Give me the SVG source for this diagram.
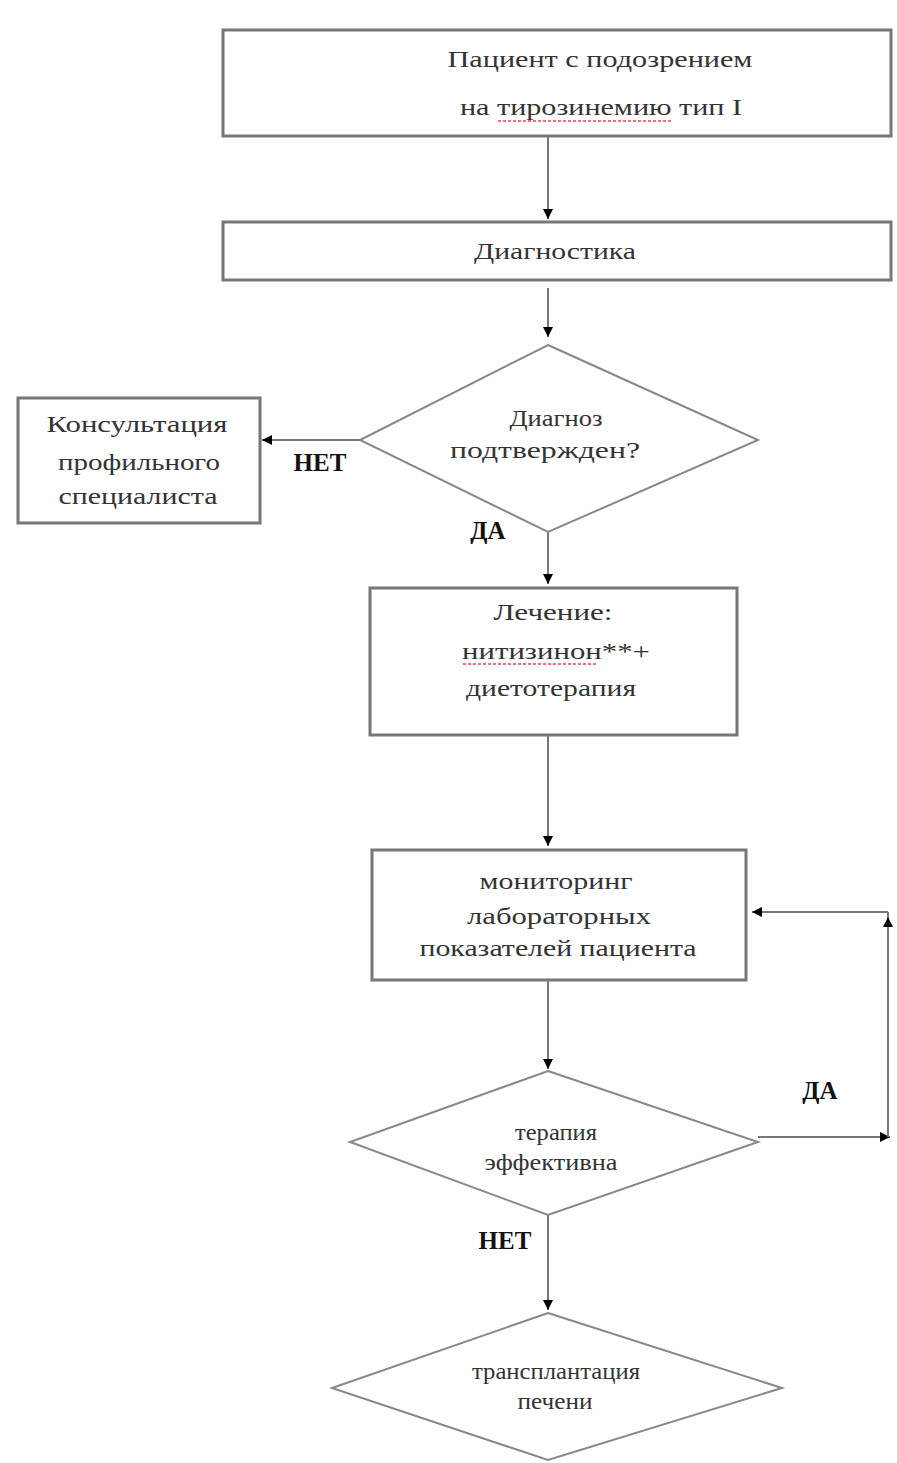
<svg xmlns="http://www.w3.org/2000/svg" width="897" height="1463" viewBox="0 0 897 1463">
<style>
.box{fill:#fff;stroke:#777;stroke-width:3}
.dia{fill:#fff;stroke:#888;stroke-width:2}
.t{font-family:"Liberation Serif","Times New Roman",serif;font-size:24px;fill:#333;text-anchor:middle}
.b{font-family:"Liberation Serif","Times New Roman",serif;font-size:25px;font-weight:bold;fill:#111;text-anchor:middle}
.c{fill:none;stroke:#777;stroke-width:2}
.sp{fill:none;stroke:#f07080;stroke-width:2;stroke-dasharray:3 2}
</style>
<defs>
<marker id="ah" viewBox="0 0 10 10" refX="10" refY="5" markerWidth="5" markerHeight="5" orient="auto" markerUnits="strokeWidth">
<path d="M0,0 L10,5 L0,10 z" fill="#000"/>
</marker>
</defs>
<rect width="897" height="1463" fill="#fff"/>
<g id="connectors">
<line class="c" x1="548" y1="137" x2="548" y2="219" marker-end="url(#ah)"/>
<line class="c" x1="548" y1="288" x2="548" y2="337" marker-end="url(#ah)"/>
<line class="c" x1="360" y1="440" x2="262" y2="440" marker-end="url(#ah)"/>
<line class="c" x1="548" y1="532" x2="548" y2="584" marker-end="url(#ah)"/>
<line class="c" x1="548" y1="736" x2="548" y2="846" marker-end="url(#ah)"/>
<line class="c" x1="548" y1="981" x2="548" y2="1069" marker-end="url(#ah)"/>
<line class="c" x1="758" y1="1137" x2="890" y2="1137" marker-end="url(#ah)"/>
<polyline class="c" points="888,1137 888,912" />
<line class="c" x1="888" y1="940" x2="888" y2="917" marker-end="url(#ah)"/>
<line class="c" x1="888" y1="912" x2="752" y2="912" marker-end="url(#ah)"/>
<line class="c" x1="548" y1="1215" x2="548" y2="1310" marker-end="url(#ah)"/>
<text class="b" x="320" y="471">НЕТ</text>
<text class="b" x="488" y="539">ДА</text>
<text class="b" x="820" y="1099">ДА</text>
<text class="b" x="505" y="1249">НЕТ</text>
</g>
<g id="n1">
<rect class="box" x="223" y="30" width="668" height="106"/>
<text class="t" x="600" y="67" textLength="305" lengthAdjust="spacingAndGlyphs">Пациент с подозрением</text>
<text class="t" x="601" y="115" textLength="282" lengthAdjust="spacingAndGlyphs">на тирозинемию тип I</text>
<path class="sp" d="M498,121 H672"/>
</g>
<g id="n2">
<rect class="box" x="223" y="222" width="668" height="58"/>
<text class="t" x="555" y="259" textLength="162" lengthAdjust="spacingAndGlyphs">Диагностика</text>
</g>
<g id="n3">
<polygon class="dia" points="548,345 758,440 548,532 360,440"/>
<text class="t" x="556" y="426" textLength="93" lengthAdjust="spacingAndGlyphs">Диагноз</text>
<text class="t" x="545" y="458" textLength="190" lengthAdjust="spacingAndGlyphs">подтвержден?</text>
</g>
<g id="n4">
<rect class="box" x="18" y="398" width="242" height="125"/>
<text class="t" x="137" y="432" textLength="181" lengthAdjust="spacingAndGlyphs">Консультация</text>
<text class="t" x="139" y="470" textLength="162" lengthAdjust="spacingAndGlyphs">профильного</text>
<text class="t" x="138" y="504" textLength="159" lengthAdjust="spacingAndGlyphs">специалиста</text>
</g>
<g id="n5">
<rect class="box" x="370" y="588" width="367" height="147"/>
<text class="t" x="553" y="620" textLength="119" lengthAdjust="spacingAndGlyphs">Лечение:</text>
<text class="t" x="556" y="659" textLength="188" lengthAdjust="spacingAndGlyphs">нитизинон**+</text>
<path class="sp" d="M463,664 H597"/>
<text class="t" x="551" y="696" textLength="170" lengthAdjust="spacingAndGlyphs">диетотерапия</text>
</g>
<g id="n6">
<rect class="box" x="372" y="850" width="374" height="130"/>
<text class="t" x="556" y="889" textLength="153" lengthAdjust="spacingAndGlyphs">мониторинг</text>
<text class="t" x="559" y="924" textLength="184" lengthAdjust="spacingAndGlyphs">лабораторных</text>
<text class="t" x="558" y="956" textLength="277" lengthAdjust="spacingAndGlyphs">показателей пациента</text>
</g>
<g id="n7">
<polygon class="dia" points="548,1071 758,1142 548,1215 350,1142"/>
<text class="t" x="556" y="1140" textLength="82" lengthAdjust="spacingAndGlyphs">терапия</text>
<text class="t" x="551" y="1170" textLength="133" lengthAdjust="spacingAndGlyphs">эффективна</text>
</g>
<g id="n8">
<polygon class="dia" points="548,1313 782,1388 548,1460 332,1388"/>
<text class="t" x="556" y="1379" textLength="168" lengthAdjust="spacingAndGlyphs">трансплантация</text>
<text class="t" x="555" y="1409" textLength="75" lengthAdjust="spacingAndGlyphs">печени</text>
</g>
</svg>
